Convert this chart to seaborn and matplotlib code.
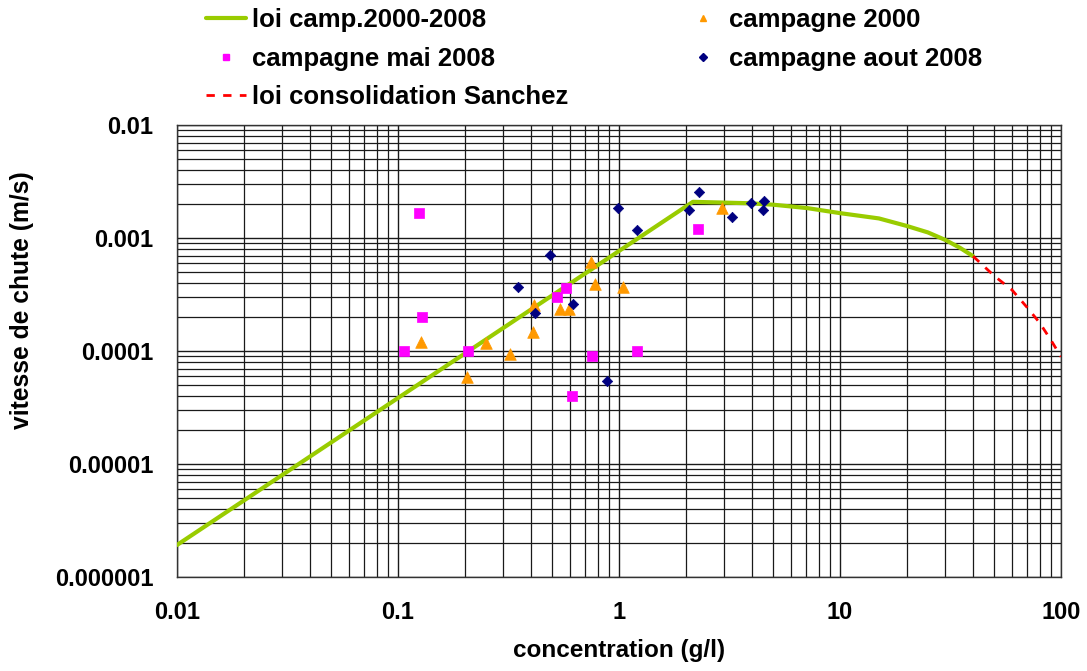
import numpy as np
import pandas as pd
import matplotlib
matplotlib.use("Agg")
import matplotlib.pyplot as plt
import matplotlib.ticker as mticker
from matplotlib.lines import Line2D
import seaborn as sns

# ---- data ----
law_x = [0.01, 2.16, 3.9, 5.0, 7.1, 10, 15, 20, 25, 30, 35, 40]
law_y = [1.92e-6, 0.00209, 0.00203, 0.00197, 0.00184, 0.00166, 0.00149, 0.00128, 0.00112, 0.00096, 0.000816, 0.00069]

sanchez_x = [40, 50, 60, 70, 80, 90, 100]
sanchez_y = [0.00069, 0.00046, 0.000347, 0.000245, 0.000178, 0.000125, 8.9e-5]

c2000_x = [0.127, 0.205, 0.25, 0.32, 0.407, 0.411, 0.541, 0.594, 0.747, 0.779, 1.04, 2.91]
c2000_y = [0.000119, 5.85e-5, 0.000117, 9.5e-5, 0.000146, 0.000255, 0.000237, 0.000237, 0.00061, 0.000389, 0.000366, 0.00185]

mai_x = [0.125, 0.129, 0.106, 0.208, 0.526, 0.576, 0.755, 0.611, 1.21, 2.28]
mai_y = [0.00167, 0.000201, 0.0001, 0.0001, 0.000303, 0.000359, 9.0e-5, 4.0e-5, 0.0001, 0.00119]

aout_x = [0.348, 0.418, 0.489, 0.619, 0.88, 0.986, 1.21, 2.30, 2.08, 3.23, 3.96, 4.53, 4.5]
aout_y = [0.000368, 0.000218, 0.000712, 0.000259, 5.4e-5, 0.00185, 0.00118, 0.00254, 0.00177, 0.00152, 0.00203, 0.00212, 0.00177]

x_ticks = [0.01, 0.1, 1, 10, 100]
x_labels = ["0.01", "0.1", "1", "10", "100"]
y_ticks = [1e-6, 1e-5, 1e-4, 1e-3, 1e-2]
y_labels = ["0.000001", "0.00001", "0.0001", "0.001", "0.01"]

labels = ["loi camp.2000-2008", "campagne 2000", "campagne mai 2008",
          "campagne aout 2008", "loi consolidation Sanchez"]

# ---- style ----
sns.set_theme(style="white")
plt.rcParams["font.family"] = ["Liberation Sans", "DejaVu Sans"]
plt.rcParams["font.weight"] = "bold"
plt.rcParams["text.color"] = "black"
plt.rcParams["axes.labelcolor"] = "black"
plt.rcParams["xtick.color"] = "black"
plt.rcParams["ytick.color"] = "black"

GREEN = "#99CC00"
ORANGE = "#FF9900"
MAGENTA = "#FF00FF"
NAVY = "#000080"
RED = "#FF0000"

fig = plt.figure(figsize=(10.87, 6.71), dpi=100)
ax = fig.add_axes([177/1087, 1 - 577/671, (1061-177)/1087, (577-125)/671])

ax.set_xscale("log")
ax.set_yscale("log")
ax.set_xlim(0.01, 100)
ax.set_ylim(1e-6, 1e-2)

# grid
ax.grid(True, which="major", color="#1a1a1a", linewidth=1.0)
ax.grid(True, which="minor", color="#1a1a1a", linewidth=0.9)
ax.set_axisbelow(True)

df_law = pd.DataFrame({"x": law_x, "y": law_y})
df_san = pd.DataFrame({"x": sanchez_x, "y": sanchez_y})
sns.lineplot(data=df_law, x="x", y="y", ax=ax, color=GREEN, linewidth=3, zorder=3)
sns.lineplot(data=df_san, x="x", y="y", ax=ax, color=RED, linewidth=2, zorder=3,
             dashes=False, linestyle=(0, (3, 3)))

sns.scatterplot(x=c2000_x, y=c2000_y, ax=ax, marker="^", color=ORANGE, s=70,
                edgecolor=ORANGE, linewidth=0.5, zorder=4)
sns.scatterplot(x=mai_x, y=mai_y, ax=ax, marker="s", color=MAGENTA, s=60,
                edgecolor=MAGENTA, linewidth=0.5, zorder=4)
sns.scatterplot(x=aout_x, y=aout_y, ax=ax, marker="D", color=NAVY, s=28,
                edgecolor=NAVY, linewidth=0.5, zorder=5)

ax.xaxis.set_major_locator(mticker.FixedLocator(x_ticks))
ax.xaxis.set_major_formatter(mticker.FixedFormatter(x_labels))
ax.yaxis.set_major_locator(mticker.FixedLocator(y_ticks))
ax.yaxis.set_major_formatter(mticker.FixedFormatter(y_labels))
ax.xaxis.set_minor_locator(mticker.LogLocator(base=10, subs=np.arange(2, 10)))
ax.yaxis.set_minor_locator(mticker.LogLocator(base=10, subs=np.arange(2, 10)))
ax.xaxis.set_minor_formatter(mticker.NullFormatter())
ax.yaxis.set_minor_formatter(mticker.NullFormatter())

ax.tick_params(which="major", direction="out", length=7, width=1, color="#333333",
               labelcolor="black", labelsize=17, pad=10)
ax.tick_params(which="minor", length=0)
for lab in ax.get_xticklabels() + ax.get_yticklabels():
    lab.set_fontweight("bold")

for sp in ax.spines.values():
    sp.set_color("#333333")
    sp.set_linewidth(1.0)

ax.set_xlabel("concentration (g/l)", fontsize=17.5, fontweight="bold", labelpad=11,
              color="black")
ax.set_ylabel("vitesse de chute (m/s)", fontsize=17.7, fontweight="bold", color="black")
ax.yaxis.set_label_coords(-0.162, 0.613)

# legend (row-wise layout, two columns)
h_law = Line2D([], [], color=GREEN, linewidth=3)
h_2000 = Line2D([], [], color=ORANGE, marker="^", linestyle="None", markersize=5)
h_mai = Line2D([], [], color=MAGENTA, marker="s", linestyle="None", markersize=5)
h_aout = Line2D([], [], color=NAVY, marker="D", linestyle="None", markersize=4)
h_san = Line2D([], [], color=RED, linewidth=2, linestyle=(0, (3, 3)))
handles = [h_law, h_mai, h_san, h_2000, h_aout]
labs = [labels[0], labels[2], labels[4], labels[1], labels[3]]
leg = fig.legend(handles, labs, loc="upper left", bbox_to_anchor=(206/1087, 1 - 8/671),
                 ncol=2, frameon=False, handlelength=1.55, handletextpad=0.25,
                 columnspacing=4.45, labelspacing=0.57, borderpad=0, borderaxespad=0,
                 prop={"weight": "bold", "size": 18.5})
for t in leg.get_texts():
    t.set_color("black")

fig.savefig("out.png", dpi=100)
